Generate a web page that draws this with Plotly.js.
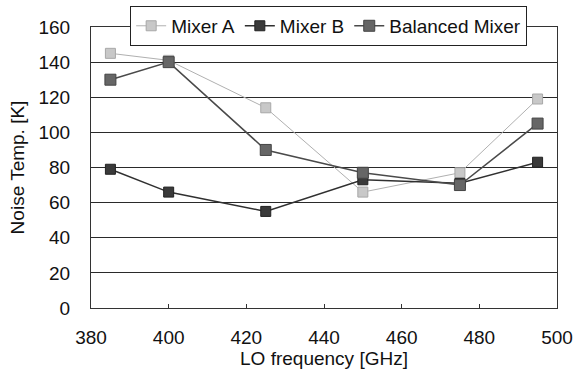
<!DOCTYPE html>
<html>
<head>
<meta charset="utf-8">
<script src="https://cdn.plot.ly/plotly-3.0.1.min.js"></script>
<style>html,body{margin:0;padding:0;background:#fff;}#chart{width:580px;height:370px;}</style>
</head>
<body>
<div id="chart"></div>
<script>
const freqs = [385, 400, 425, 450, 475, 495];
const mixerA = [145, 141, 114, 66, 77, 119];
const mixerB = [79, 66, 55, 73, 71, 83];
const balanced = [130, 140, 90, 77, 70, 105];
const xTicks = [380, 400, 420, 440, 460, 480, 500];
const yTicks = [0, 20, 40, 60, 80, 100, 120, 140, 160];

const fam = 'Liberation Sans, Arial, sans-serif';
const font = {family: fam, size: 19, color: '#111'};

const traces = [
  {x: freqs, y: mixerA, name: 'Mixer A', mode: 'lines+markers',
   line: {color: '#b0b0b0', width: 1},
   marker: {symbol: 'square', size: 10, color: '#c8c8c8', line: {color: '#a8a8a8', width: 1}}},
  {x: freqs, y: mixerB, name: 'Mixer B', mode: 'lines+markers',
   line: {color: '#303030', width: 1.5},
   marker: {symbol: 'square', size: 10, color: '#3a3a3a', line: {color: '#222', width: 1}}},
  {x: freqs, y: balanced, name: 'Balanced Mixer', mode: 'lines+markers',
   line: {color: '#4a4a4a', width: 1.5},
   marker: {symbol: 'square', size: 11, color: '#666', line: {color: '#444', width: 1}}}
];

const layout = {
  width: 580, height: 370,
  margin: {l: 91, r: 23, t: 27, b: 62, autoexpand: false},
  paper_bgcolor: '#fff', plot_bgcolor: '#fff',
  font: font,
  showlegend: true,
  legend: {orientation: 'h', x: 0.51, xanchor: 'center', y: 1.075, yanchor: 'top',
           bgcolor: '#fff', bordercolor: '#222', borderwidth: 1,
           font: {family: fam, size: 19, color: '#111'},
           itemwidth: 30, tracegroupgap: 0},
  xaxis: {range: [380, 500], tickvals: xTicks, ticktext: xTicks.map(String),
          ticks: 'inside', ticklen: 4, tickcolor: '#333',
          showgrid: false, zeroline: false,
          showline: true, linecolor: '#333', linewidth: 1, mirror: true,
          ticklabelstandoff: 12,
          title: {text: 'LO frequency [GHz]', font: {family: fam, size: 19, color: '#111'}, standoff: 4}},
  yaxis: {range: [0, 160], tickvals: yTicks, ticktext: yTicks.map(String),
          ticks: '', showgrid: true, gridcolor: '#2a2a2a', gridwidth: 1,
          zeroline: false,
          showline: true, linecolor: '#333', linewidth: 1, mirror: true,
          ticklabelstandoff: 16,
          title: {text: 'Noise Temp. [K]', font: {family: fam, size: 19, color: '#111'}, standoff: 8}}
};

Plotly.newPlot('chart', traces, layout, {displayModeBar: false, staticPlot: true});
</script>
</body>
</html>
